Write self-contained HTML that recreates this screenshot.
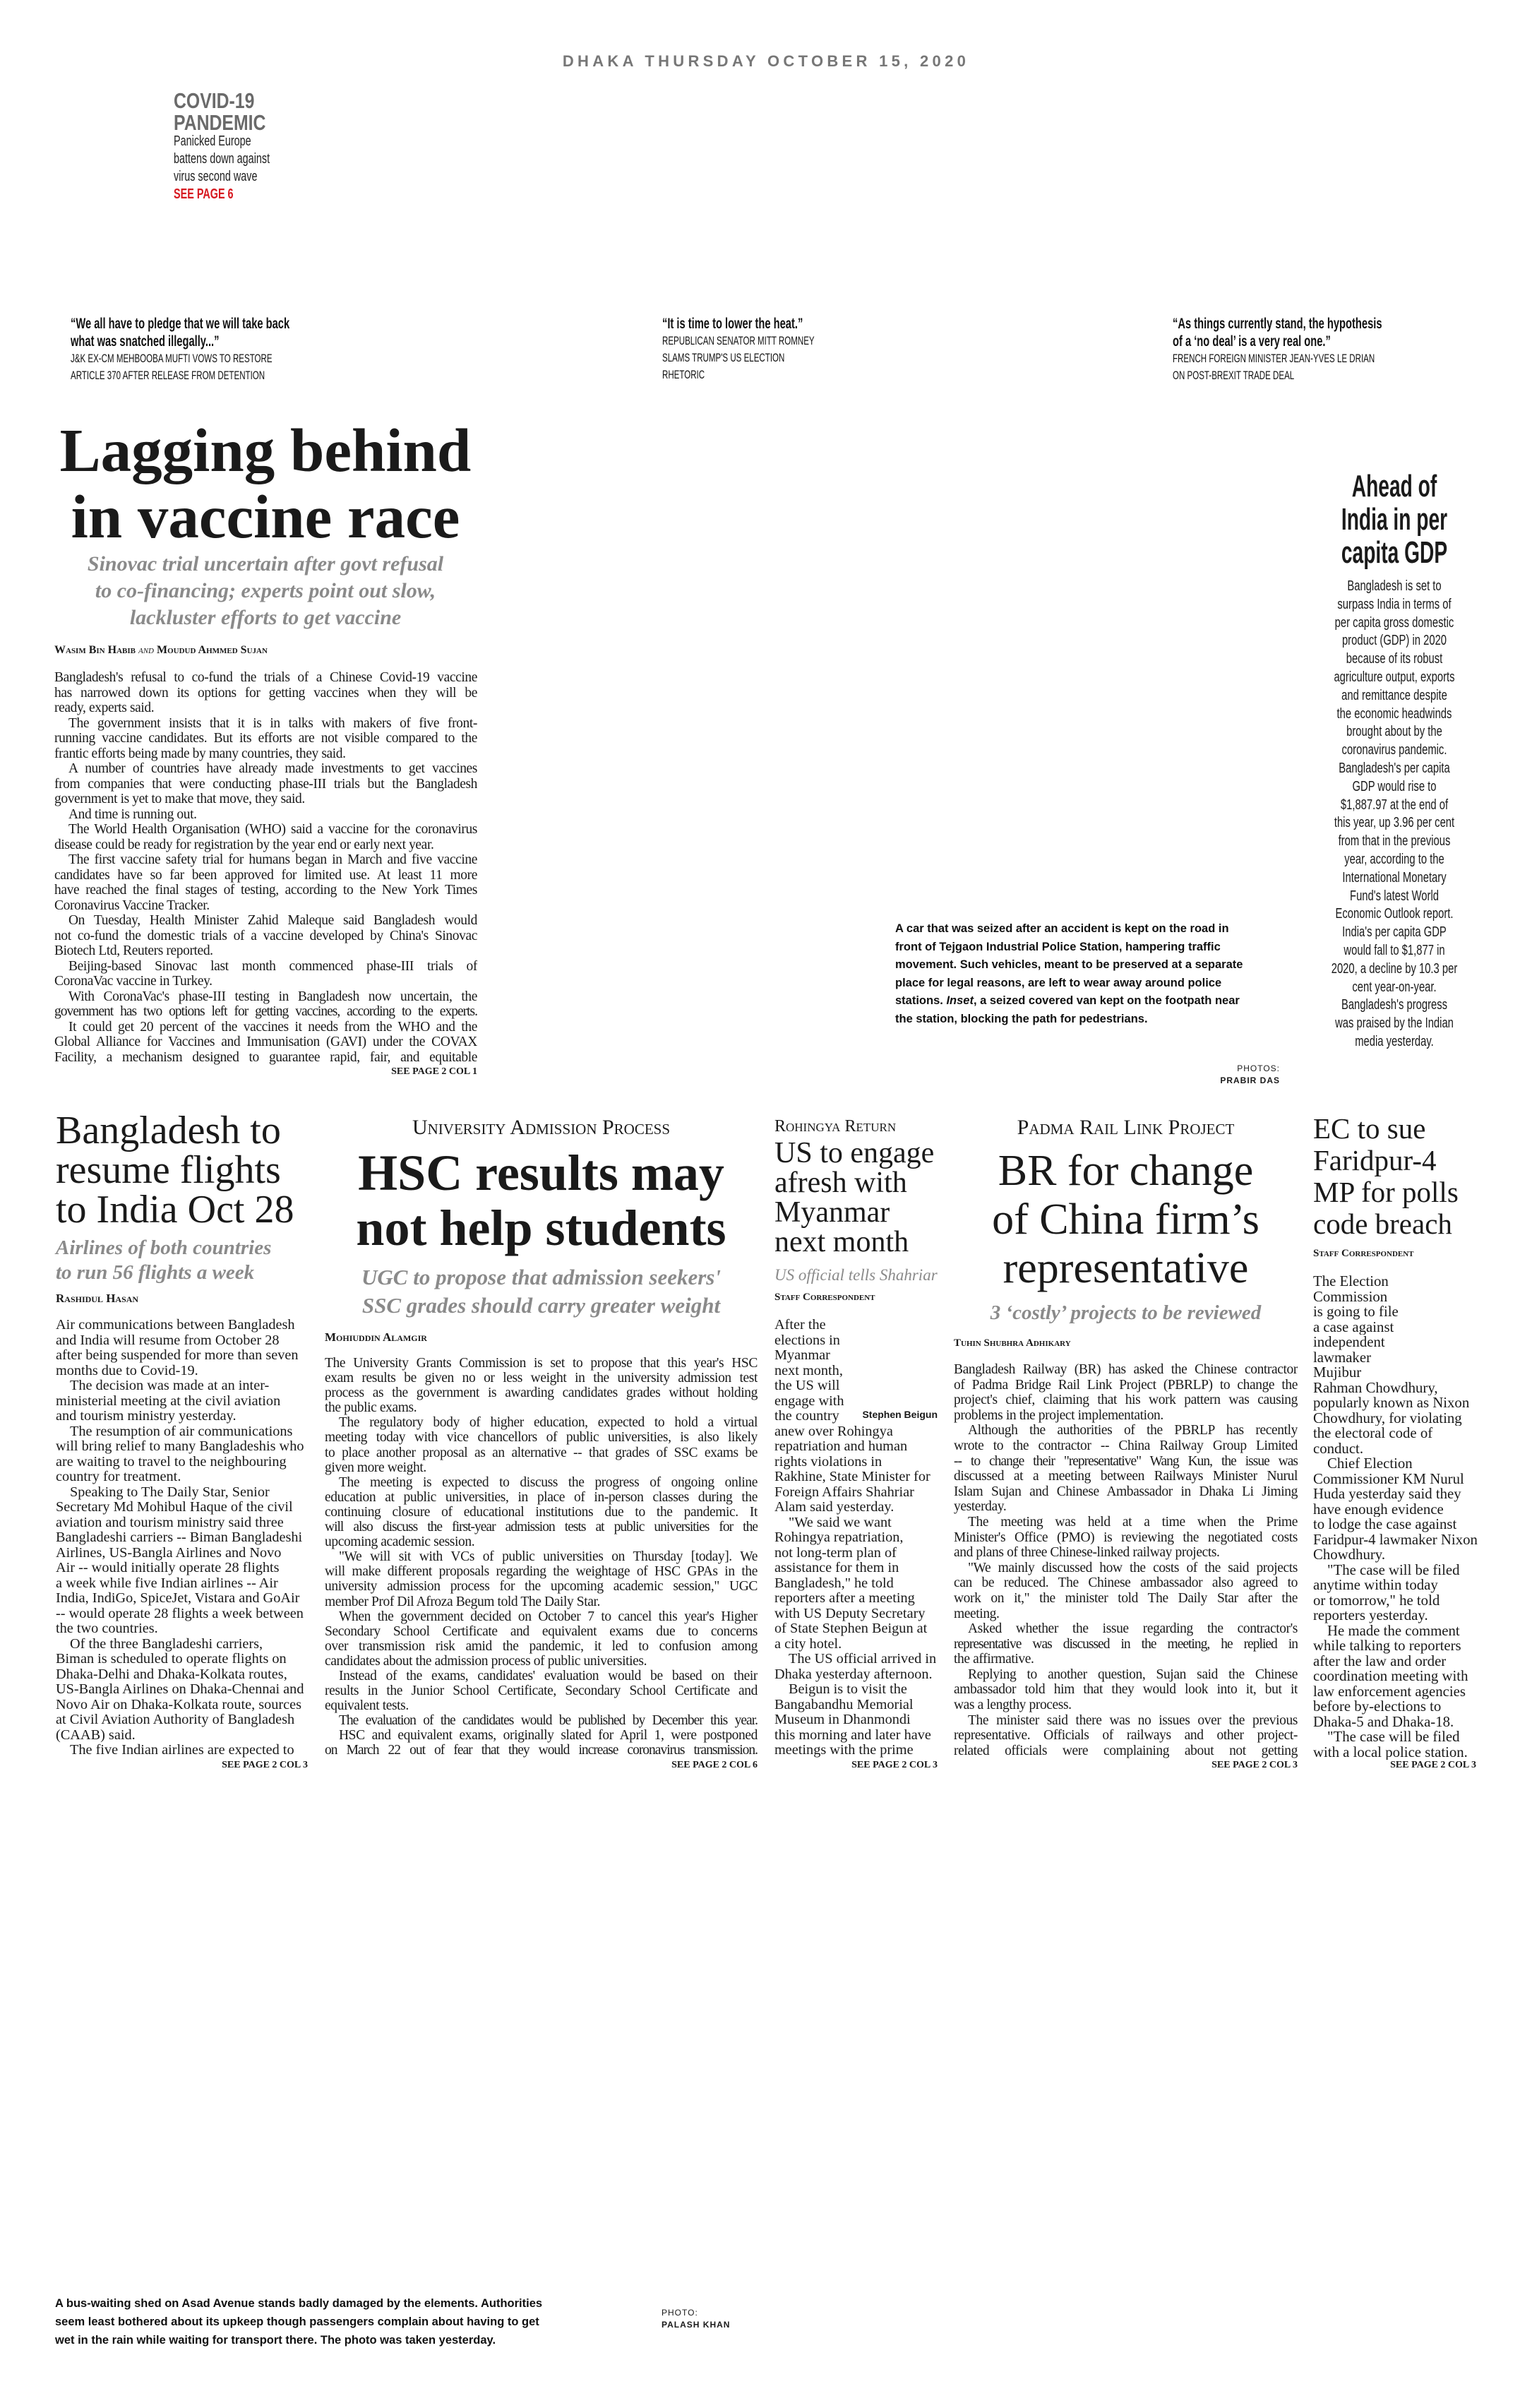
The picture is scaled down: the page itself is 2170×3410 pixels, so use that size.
<!DOCTYPE html>
<html><head><meta charset="utf-8">
<style>
*{margin:0;padding:0;box-sizing:border-box}
body{width:2170px;height:3410px;background:#fff;position:relative;overflow:hidden;font-family:"Liberation Serif",serif;color:#1a1a1a}
.a{position:absolute}
.sans{font-family:"Liberation Sans",sans-serif}
.nw{white-space:nowrap}
.col div{height:var(--lh);line-height:var(--lh);overflow:hidden;white-space:nowrap}
.jc div{white-space:normal;text-align:justify;text-align-last:justify;letter-spacing:-0.4px}
.jc div.e{text-align-last:left}
.jc div.t{letter-spacing:-1px}
.i{padding-left:20px}
.sub{font-style:italic;font-weight:bold;color:#8a8a8a;text-align:center;white-space:nowrap}
.by{font-variant:small-caps;font-weight:bold;font-size:17px;white-space:nowrap}
.see{font-size:14px;font-weight:bold;white-space:nowrap;text-align:right}
.kick{font-variant:small-caps;white-space:nowrap;text-align:center}
</style></head><body>

<div class="a sans nw" style="left:0;width:2170px;top:74px;text-align:center;font-size:22px;font-weight:bold;letter-spacing:5.3px;color:#777">DHAKA THURSDAY OCTOBER 15, 2020</div>

<div class="a sans nw" style="left:246px;top:127px;transform:scaleX(0.8);transform-origin:left top;color:#6a6a6a;font-weight:bold;font-size:31px;line-height:31px">COVID-19<br>PANDEMIC</div>
<div class="a sans nw" style="left:246px;top:188px;transform:scaleX(0.72);transform-origin:left top;font-size:20px;line-height:25px;color:#222">Panicked Europe<br>battens down against<br>virus second wave<br><span style="color:#d71920;font-weight:bold">SEE PAGE 6</span></div>

<div class="a sans nw" style="left:100px;top:446px;transform:scaleX(0.7);transform-origin:left top;color:#111">
<div style="font-weight:bold;font-size:21px;line-height:25px">“We all have to pledge that we will take back<br>what was snatched illegally...”</div>
<div style="font-size:16.5px;line-height:24px">J&amp;K EX-CM MEHBOOBA MUFTI VOWS TO RESTORE<br>ARTICLE 370 AFTER RELEASE FROM DETENTION</div></div>
<div class="a sans nw" style="left:938px;top:446px;transform:scaleX(0.7);transform-origin:left top;color:#111">
<div style="font-weight:bold;font-size:21px;line-height:25px">“It is time to lower the heat.”</div>
<div style="font-size:16.5px;line-height:24px">REPUBLICAN SENATOR MITT ROMNEY<br>SLAMS TRUMP'S US ELECTION<br>RHETORIC</div></div>
<div class="a sans nw" style="left:1661px;top:446px;transform:scaleX(0.7);transform-origin:left top;color:#111">
<div style="font-weight:bold;font-size:21px;line-height:25px">“As things currently stand, the hypothesis<br>of a ‘no deal’ is a very real one.”</div>
<div style="font-size:16.5px;line-height:24px">FRENCH FOREIGN MINISTER JEAN-YVES LE DRIAN<br>ON POST-BREXIT TRADE DEAL</div></div>

<!-- Main story -->
<div class="a nw" style="left:0;width:752px;top:591px;text-align:center;font-weight:bold;font-size:87px;line-height:94px">Lagging behind<br>in vaccine race</div>
<div class="a sub" style="left:0;width:752px;top:780px;font-size:30px;line-height:38px">Sinovac trial uncertain after govt refusal<br>to co-financing; experts point out slow,<br>lackluster efforts to get vaccine</div>
<div class="a by" style="left:77px;top:912px;font-size:16px">Wasim Bin Habib <i style="font-weight:normal">and</i> Moudud Ahmmed Sujan</div>
<div class="a col jc" style="left:77px;top:949px;width:599px;--lh:21.5px;font-size:19.5px">
<div>Bangladesh's refusal to co-fund the trials of a Chinese Covid-19 vaccine</div>
<div>has narrowed down its options for getting vaccines when they will be</div>
<div class="e">ready, experts said.</div>
<div class="i">The government insists that it is in talks with makers of five front-</div>
<div>running vaccine candidates. But its efforts are not visible compared to the</div>
<div class="e">frantic efforts being made by many countries, they said.</div>
<div class="i">A number of countries have already made investments to get vaccines</div>
<div>from companies that were conducting phase-III trials but the Bangladesh</div>
<div class="e">government is yet to make that move, they said.</div>
<div class="i e">And time is running out.</div>
<div class="i">The World Health Organisation (WHO) said a vaccine for the coronavirus</div>
<div class="e">disease could be ready for registration by the year end or early next year.</div>
<div class="i">The first vaccine safety trial for humans began in March and five vaccine</div>
<div>candidates have so far been approved for limited use. At least 11 more</div>
<div>have reached the final stages of testing, according to the New York Times</div>
<div class="e">Coronavirus Vaccine Tracker.</div>
<div class="i">On Tuesday, Health Minister Zahid Maleque said Bangladesh would</div>
<div>not co-fund the domestic trials of a vaccine developed by China's Sinovac</div>
<div class="e">Biotech Ltd, Reuters reported.</div>
<div class="i">Beijing-based Sinovac last month commenced phase-III trials of</div>
<div class="e">CoronaVac vaccine in Turkey.</div>
<div class="i">With CoronaVac's phase-III testing in Bangladesh now uncertain, the</div>
<div class="t">government has two options left for getting vaccines, according to the experts.</div>
<div class="i">It could get 20 percent of the vaccines it needs from the WHO and the</div>
<div>Global Alliance for Vaccines and Immunisation (GAVI) under the COVAX</div>
<div>Facility, a mechanism designed to guarantee rapid, fair, and equitable</div>
</div>
<div class="a see" style="left:476px;width:200px;top:1510px">SEE PAGE 2 COL 1</div>

<!-- Photo caption -->
<div class="a sans nw" style="left:1268px;top:1303px;font-weight:bold;font-size:16.5px;line-height:25.6px;color:#111">A car that was seized after an accident is kept on the road in<br>front of Tejgaon Industrial Police Station, hampering traffic<br>movement. Such vehicles, meant to be preserved at a separate<br>place for legal reasons, are left to wear away around police<br>stations. <i>Inset</i>, a seized covered van kept on the footpath near<br>the station, blocking the path for pedestrians.</div>
<div class="a sans nw" style="left:1613px;width:200px;top:1505px;text-align:right;font-size:12px;line-height:17px;letter-spacing:1px">PHOTOS:<br><b>PRABIR DAS</b></div>

<!-- Ahead of India -->
<div class="a sans nw" style="left:1775px;width:400px;top:665px;text-align:center;font-weight:bold;font-size:44px;line-height:47px;transform:scaleX(0.64);transform-origin:center top">Ahead of<br>India in per<br>capita GDP</div>
<div class="a sans nw" style="left:1775px;width:400px;top:818px;text-align:center;font-size:20px;line-height:25.8px;transform:scaleX(0.74);transform-origin:center top;color:#1a1a1a">Bangladesh is set to<br>surpass India in terms of<br>per capita gross domestic<br>product (GDP) in 2020<br>because of its robust<br>agriculture output, exports<br>and remittance despite<br>the economic headwinds<br>brought about by the<br>coronavirus pandemic.<br>Bangladesh's per capita<br>GDP would rise to<br>$1,887.97 at the end of<br>this year, up 3.96 per cent<br>from that in the previous<br>year, according to the<br>International Monetary<br>Fund's latest World<br>Economic Outlook report.<br>India's per capita GDP<br>would fall to $1,877 in<br>2020, a decline by 10.3 per<br>cent year-on-year.<br>Bangladesh's progress<br>was praised by the Indian<br>media yesterday.</div>

<!-- Col 1 -->
<div class="a nw" style="left:79px;top:1573px;font-size:56px;line-height:56px">Bangladesh to<br>resume flights<br>to India Oct 28</div>
<div class="a sub" style="left:79px;top:1750px;font-size:29px;line-height:35px;text-align:left">Airlines of both countries<br>to run 56 flights a week</div>
<div class="a by" style="left:79px;top:1829px">Rashidul Hasan</div>
<div class="a col" style="left:79px;top:1866px;--lh:21.5px;font-size:20.3px">
<div>Air communications between Bangladesh</div>
<div>and India will resume from October 28</div>
<div>after being suspended for more than seven</div>
<div>months due to Covid-19.</div>
<div class="i">The decision was made at an inter-</div>
<div>ministerial meeting at the civil aviation</div>
<div>and tourism ministry yesterday.</div>
<div class="i">The resumption of air communications</div>
<div>will bring relief to many Bangladeshis who</div>
<div>are waiting to travel to the neighbouring</div>
<div>country for treatment.</div>
<div class="i">Speaking to The Daily Star, Senior</div>
<div>Secretary Md Mohibul Haque of the civil</div>
<div>aviation and tourism ministry said three</div>
<div>Bangladeshi carriers -- Biman Bangladeshi</div>
<div>Airlines, US-Bangla Airlines and Novo</div>
<div>Air -- would initially operate 28 flights</div>
<div>a week while five Indian airlines -- Air</div>
<div>India, IndiGo, SpiceJet, Vistara and GoAir</div>
<div>-- would operate 28 flights a week between</div>
<div>the two countries.</div>
<div class="i">Of the three Bangladeshi carriers,</div>
<div>Biman is scheduled to operate flights on</div>
<div>Dhaka-Delhi and Dhaka-Kolkata routes,</div>
<div>US-Bangla Airlines on Dhaka-Chennai and</div>
<div>Novo Air on Dhaka-Kolkata route, sources</div>
<div>at Civil Aviation Authority of Bangladesh</div>
<div>(CAAB) said.</div>
<div class="i">The five Indian airlines are expected to</div>
</div>
<div class="a see" style="left:236px;width:200px;top:2492px">SEE PAGE 2 COL 3</div>

<!-- Col 2 -->
<div class="a kick" style="left:460px;width:613px;top:1578px;font-size:30px;line-height:38px">University Admission Process</div>
<div class="a nw" style="left:460px;width:613px;top:1622px;text-align:center;font-weight:bold;font-size:72px;line-height:78px">HSC results may<br>not help students</div>
<div class="a sub" style="left:460px;width:613px;top:1789px;font-size:31px;line-height:40px">UGC to propose that admission seekers'<br>SSC grades should carry greater weight</div>
<div class="a by" style="left:460px;top:1884px">Mohiuddin Alamgir</div>
<div class="a col jc" style="left:460px;top:1920px;width:613px;--lh:21.1px;font-size:19.5px">
<div>The University Grants Commission is set to propose that this year's HSC</div>
<div>exam results be given no or less weight in the university admission test</div>
<div>process as the government is awarding candidates grades without holding</div>
<div class="e">the public exams.</div>
<div class="i">The regulatory body of higher education, expected to hold a virtual</div>
<div>meeting today with vice chancellors of public universities, is also likely</div>
<div>to place another proposal as an alternative -- that grades of SSC exams be</div>
<div class="e">given more weight.</div>
<div class="i">The meeting is expected to discuss the progress of ongoing online</div>
<div>education at public universities, in place of in-person classes during the</div>
<div>continuing closure of educational institutions due to the pandemic. It</div>
<div class="t">will also discuss the first-year admission tests at public universities for the</div>
<div class="e">upcoming academic session.</div>
<div class="i">"We will sit with VCs of public universities on Thursday [today]. We</div>
<div>will make different proposals regarding the weightage of HSC GPAs in the</div>
<div>university admission process for the upcoming academic session," UGC</div>
<div class="e">member Prof Dil Afroza Begum told The Daily Star.</div>
<div class="i">When the government decided on October 7 to cancel this year's Higher</div>
<div>Secondary School Certificate and equivalent exams due to concerns</div>
<div>over transmission risk amid the pandemic, it led to confusion among</div>
<div class="e">candidates about the admission process of public universities.</div>
<div class="i">Instead of the exams, candidates' evaluation would be based on their</div>
<div>results in the Junior School Certificate, Secondary School Certificate and</div>
<div class="e">equivalent tests.</div>
<div class="i t">The evaluation of the candidates would be published by December this year.</div>
<div class="i">HSC and equivalent exams, originally slated for April 1, were postponed</div>
<div class="t">on March 22 out of fear that they would increase coronavirus transmission.</div>
</div>
<div class="a see" style="left:873px;width:200px;top:2492px">SEE PAGE 2 COL 6</div>

<!-- Col 3 -->
<div class="a kick" style="left:1097px;top:1581px;font-size:24px;line-height:28px;text-align:left">Rohingya Return</div>
<div class="a nw" style="left:1097px;top:1612px;font-size:42px;line-height:42px">US to engage<br>afresh with<br>Myanmar<br>next month</div>
<div class="a nw" style="left:1097px;top:1792px;font-size:23px;line-height:28px;font-style:italic;color:#8a8a8a">US official tells Shahriar</div>
<div class="a by" style="left:1097px;top:1829px;font-size:15px">Staff Correspondent</div>
<div class="a col" style="left:1097px;top:1866px;--lh:21.5px;font-size:20.3px">
<div>After the</div><div>elections in</div><div>Myanmar</div><div>next month,</div><div>the US will</div><div>engage with</div><div>the country</div>
<div>anew over Rohingya</div><div>repatriation and human</div><div>rights violations in</div><div>Rakhine, State Minister for</div><div>Foreign Affairs Shahriar</div><div>Alam said yesterday.</div>
<div class="i">"We said we want</div><div>Rohingya repatriation,</div><div>not long-term plan of</div><div>assistance for them in</div><div>Bangladesh," he told</div><div>reporters after a meeting</div><div>with US Deputy Secretary</div><div>of State Stephen Beigun at</div><div>a city hotel.</div>
<div class="i">The US official arrived in</div><div>Dhaka yesterday afternoon.</div>
<div class="i">Beigun is to visit the</div><div>Bangabandhu Memorial</div><div>Museum in Dhanmondi</div><div>this morning and later have</div><div>meetings with the prime</div>
</div>
<div class="a sans nw" style="left:1178px;width:150px;top:1995px;text-align:right;font-weight:bold;font-size:14px">Stephen Beigun</div>
<div class="a see" style="left:1128px;width:200px;top:2492px">SEE PAGE 2 COL 3</div>

<!-- Col 4 -->
<div class="a kick" style="left:1351px;width:487px;top:1580px;font-size:30px;line-height:34px">Padma Rail Link Project</div>
<div class="a nw" style="left:1351px;width:487px;top:1624px;text-align:center;font-size:62px;line-height:69px">BR for change<br>of China firm’s<br>representative</div>
<div class="a sub" style="left:1351px;width:487px;top:1841px;font-size:29px;line-height:36px">3 ‘costly’ projects to be reviewed</div>
<div class="a by" style="left:1351px;top:1894px;font-size:15px">Tuhin Shubhra Adhikary</div>
<div class="a col jc" style="left:1351px;top:1929px;width:487px;--lh:21.6px;font-size:19.5px">
<div>Bangladesh Railway (BR) has asked the Chinese contractor</div>
<div>of Padma Bridge Rail Link Project (PBRLP) to change the</div>
<div>project's chief, claiming that his work pattern was causing</div>
<div class="e">problems in the project implementation.</div>
<div class="i">Although the authorities of the PBRLP has recently</div>
<div>wrote to the contractor -- China Railway Group Limited</div>
<div class="t">-- to change their "representative" Wang Kun, the issue was</div>
<div>discussed at a meeting between Railways Minister Nurul</div>
<div>Islam Sujan and Chinese Ambassador in Dhaka Li Jiming</div>
<div class="e">yesterday.</div>
<div class="i">The meeting was held at a time when the Prime</div>
<div>Minister's Office (PMO) is reviewing the negotiated costs</div>
<div class="e">and plans of three Chinese-linked railway projects.</div>
<div class="i">"We mainly discussed how the costs of the said projects</div>
<div>can be reduced. The Chinese ambassador also agreed to</div>
<div>work on it," the minister told The Daily Star after the</div>
<div class="e">meeting.</div>
<div class="i">Asked whether the issue regarding the contractor's</div>
<div class="t">representative was discussed in the meeting, he replied in</div>
<div class="e">the affirmative.</div>
<div class="i">Replying to another question, Sujan said the Chinese</div>
<div>ambassador told him that they would look into it, but it</div>
<div class="e">was a lengthy process.</div>
<div class="i">The minister said there was no issues over the previous</div>
<div>representative. Officials of railways and other project-</div>
<div>related officials were complaining about not getting</div>
</div>
<div class="a see" style="left:1638px;width:200px;top:2492px">SEE PAGE 2 COL 3</div>

<!-- Col 5 -->
<div class="a nw" style="left:1860px;top:1576px;font-size:41px;line-height:45px">EC to sue<br>Faridpur-4<br>MP for polls<br>code breach</div>
<div class="a by" style="left:1860px;top:1767px;font-size:15px">Staff Correspondent</div>
<div class="a col" style="left:1860px;top:1804px;--lh:21.5px;font-size:20.8px">
<div>The Election</div><div>Commission</div><div>is going to file</div><div>a case against</div><div>independent</div><div>lawmaker</div><div>Mujibur</div><div>Rahman Chowdhury,</div><div>popularly known as Nixon</div><div>Chowdhury, for violating</div><div>the electoral code of</div><div>conduct.</div>
<div class="i">Chief Election</div><div>Commissioner KM Nurul</div><div>Huda yesterday said they</div><div>have enough evidence</div><div>to lodge the case against</div><div>Faridpur-4 lawmaker Nixon</div><div>Chowdhury.</div>
<div class="i">"The case will be filed</div><div>anytime within today</div><div>or tomorrow," he told</div><div>reporters yesterday.</div>
<div class="i">He made the comment</div><div>while talking to reporters</div><div>after the law and order</div><div>coordination meeting with</div><div>law enforcement agencies</div><div>before by-elections to</div><div>Dhaka-5 and Dhaka-18.</div>
<div class="i">"The case will be filed</div><div>with a local police station.</div>
</div>
<div class="a see" style="left:1891px;width:200px;top:2492px">SEE PAGE 2 COL 3</div>

<!-- Bottom caption -->
<div class="a sans nw" style="left:78px;top:3249px;font-weight:bold;font-size:16.5px;line-height:26px;color:#111">A bus-waiting shed on Asad Avenue stands badly damaged by the elements. Authorities<br>seem least bothered about its upkeep though passengers complain about having to get<br>wet in the rain while waiting for transport there. The photo was taken yesterday.</div>
<div class="a sans nw" style="left:937px;top:3267px;font-size:12px;line-height:17px;letter-spacing:1px">PHOTO:<br><b>PALASH KHAN</b></div>

</body></html>
